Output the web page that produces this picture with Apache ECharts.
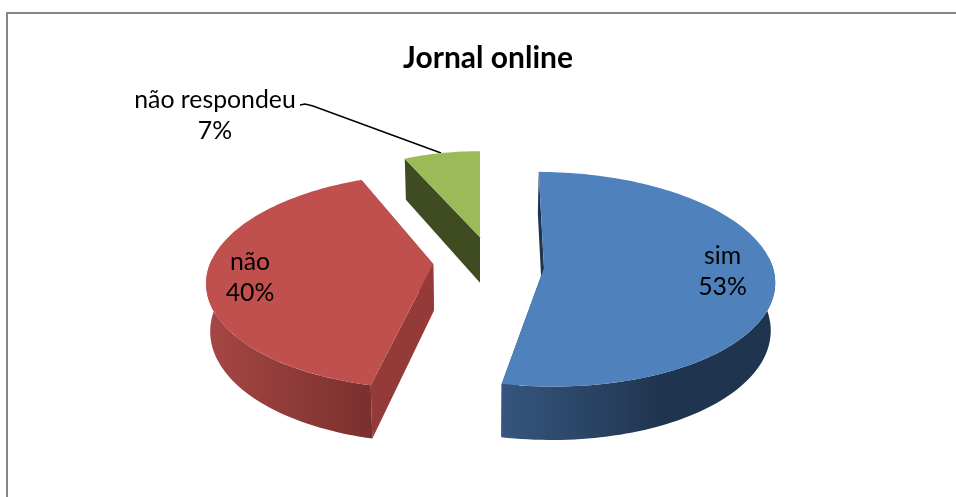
<!DOCTYPE html>
<html><head><meta charset="utf-8">
<style>html,body{margin:0;padding:0;background:#fff}#c{width:956px;height:497px}</style>
<script src="https://cdn.jsdelivr.net/npm/echarts@6/dist/echarts.min.js"></script>
</head><body><div id="c"></div>
<script>
var titleText = 'Jornal online';
var categories = ['sim', 'não', 'não respondeu'];
var values = [53, 40, 7];
var percentLabels = ['53%', '40%', '7%'];

// drawing configuration (not data)
var topColors = ['#4F81BD', '#C0504D', '#9BBB59'];
var wallColors = ['#1F3550', '#943B39', '#3F4B21'];
var outerStops = [
  [[0, '#36567E'], [0.6, '#1F344E'], [1, '#1F344E']],
  [[0, '#A64744'], [1, '#7A302E']],
  [[0, '#3F4B21'], [1, '#3F4B21']]
];
var tips = [[64, 0], [-47, 9], [0, 70]];      // plane position of each slice's tip
var centres = [[64, 4], [-44, 0], [0, 70]];   // plane position of each slice's arc centre
var radiiX = [229, 227.5, 202];
var radiiV = [234, 234, 227];
var spin = [0.5, 2.5, 0];                     // degrees
var drawOrder = [3, 2, 1];                    // z rank of each slice, back to front
var labelPos = [[722.5, 272], [250, 278], [215, 115.5]];
var leader = [[300, 105], [305, 104], [313, 106], [441, 153]];
var K = 0.00052, H = 873, Y0 = 268, XC = 480, DEPTH = 47, XSHRINK = 0.985;

function project(X, v, lower) {
  var s = 1 / (1 + K * v);
  var h = lower ? H + DEPTH : H;
  return [XC + X * s * (lower ? XSHRINK : 1), Y0 - H + h * s];
}
function arcPoints(i, a0, a1, lower) {
  var pts = [], n = Math.max(2, Math.ceil(Math.abs(a1 - a0) / 1.5));
  for (var t = 0; t <= n; t++) {
    var a = (a0 + (a1 - a0) * t / n) * Math.PI / 180;
    pts.push(project(centres[i][0] + radiiX[i] * Math.sin(a), centres[i][1] + radiiV[i] * Math.cos(a), lower));
  }
  return pts;
}
var total = values.reduce(function (a, b) { return a + b; }, 0);

function renderItem(params, api) {
  var i = params.dataIndex, start = 0;
  for (var j = 0; j < i; j++) start += values[j] / total * 360;
  var a0 = start + spin[i], a1 = a0 + api.value(0) / total * 360;
  var z = drawOrder[i] * 10;
  var tipT = project(tips[i][0], tips[i][1], false), tipB = project(tips[i][0], tips[i][1], true);
  var topArc = arcPoints(i, a0, a1, false);
  var children = [];
  function poly(points, fill, dz) {
    children.push({ type: 'polygon', shape: { points: points }, z2: z + dz,
      style: { fill: fill, stroke: null } });
  }
  [a0, a1].forEach(function (e) {
    var o1 = arcPoints(i, e, e, false)[0], o2 = arcPoints(i, e, e, true)[0];
    poly([tipT, o1, o2, tipB], wallColors[i], 1);
  });
  var f0 = Math.max(a0, 85), f1 = Math.min(a1, 275);
  if (f1 > f0) {
    var up = arcPoints(i, f0, f1, false), low = arcPoints(i, f0, f1, true).reverse();
    var stops = outerStops[i].map(function (s) { return { offset: s[0], color: s[1] }; });
    poly(up.concat(low), new echarts.graphic.LinearGradient(0, 0, 1, 0, stops), 2);
  }
  poly([tipT].concat(topArc), topColors[i], 3);
  children.push({ type: 'text', z2: 100, style: {
    text: categories[i] + '\n' + percentLabels[i], x: labelPos[i][0], y: labelPos[i][1],
    align: 'center', verticalAlign: 'middle', fill: '#000',
    font: '24.8px Lato', lineHeight: 31 } });
  if (i === 2) children.push({ type: 'polyline', z2: 5, shape: { points: leader },
    style: { stroke: '#000', lineWidth: 1.4, fill: null } });
  return { type: 'group', children: children };
}

var chart = echarts.init(document.getElementById('c'), null, { renderer: 'canvas' });
chart.setOption({
  animation: false,
  backgroundColor: '#fff',
  title: { text: titleText, left: 483, top: 38, textAlign: 'center',
    textStyle: { fontFamily: 'Lato', fontWeight: 'bold', fontSize: 30, color: '#000' } },
  graphic: [{ type: 'rect', z: -1, shape: { x: 7, y: 13, width: 1000, height: 600 },
    style: { fill: '#fff', stroke: '#868686', lineWidth: 2 } }],
  series: [{ type: 'custom', coordinateSystem: 'none', renderItem: renderItem,
    data: values.map(function (v, i) { return { name: categories[i], value: [v] }; }) }]
});
</script></body></html>
